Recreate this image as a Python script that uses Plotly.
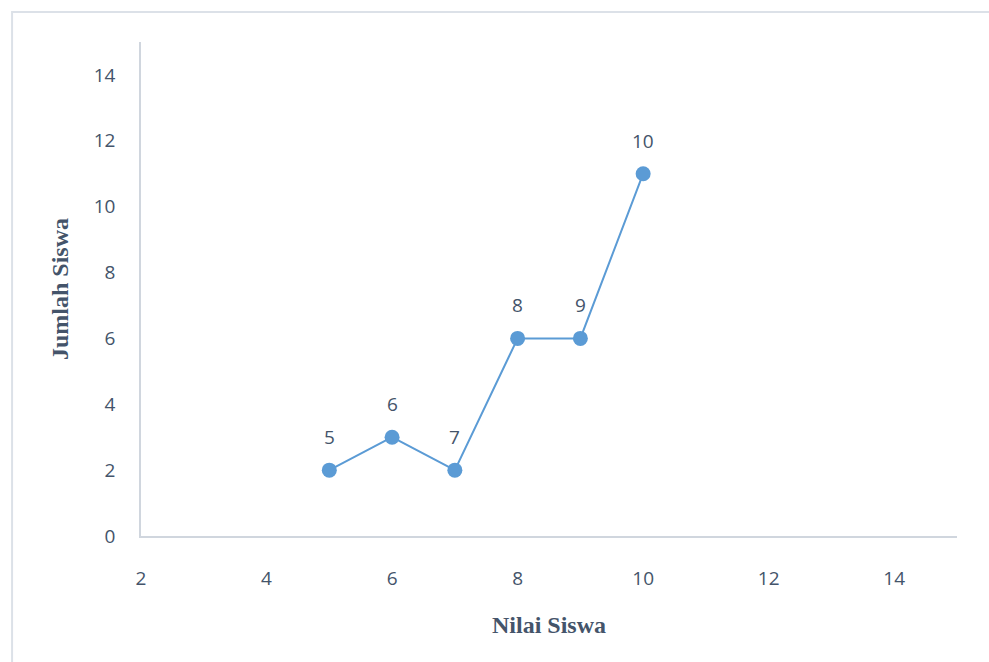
import plotly.graph_objects as go

nilai = [5, 6, 7, 8, 9, 10]
jumlah = [2, 3, 2, 6, 6, 11]
labels = ["5", "6", "7", "8", "9", "10"]

text_color = "#44546A"
axis_color = "#D0D6DE"
blue = "#5B9BD5"

fig = go.Figure()
fig.add_trace(go.Scatter(
    x=nilai, y=jumlah, mode="lines+markers",
    line=dict(color=blue, width=2),
    marker=dict(color=blue, size=15),
    hoverinfo="skip", showlegend=False,
))
for xv, yv, t in zip(nilai, jumlah, labels):
    fig.add_annotation(x=xv, y=yv, text=t, showarrow=False, yshift=33,
                       font=dict(family="Open Sans, Liberation Sans, sans-serif", size=19, color=text_color))

fig.add_shape(type="rect", xref="paper", yref="paper",
              x0=-0.158, x1=1.2, y0=-0.6, y1=1.0607,
              line=dict(color="#DCE1E8", width=2), layer="below")

fig.update_layout(
    width=989, height=662,
    margin=dict(l=141, r=32, t=42, b=126),
    paper_bgcolor="white", plot_bgcolor="white",
    font=dict(family="Open Sans, Liberation Sans, sans-serif", size=19, color=text_color),
    xaxis=dict(
        range=[2, 15], tickvals=[2, 4, 6, 8, 10, 12, 14], showgrid=False, zeroline=False,
        showline=True, linecolor=axis_color, linewidth=1.5,
        ticks="", ticklabelstandoff=24,
        title=dict(text="<b>Nilai Siswa</b>", standoff=27,
                   font=dict(family="Liberation Serif, Times New Roman, serif", size=24, color=text_color)),
    ),
    yaxis=dict(
        range=[0, 15], tickvals=[0, 2, 4, 6, 8, 10, 12, 14], showgrid=False, zeroline=False,
        showline=True, linecolor=axis_color, linewidth=1.5,
        ticks="", ticklabelstandoff=20,
        title=dict(text="<b>Jumlah Siswa</b>", standoff=18,
                   font=dict(family="Liberation Serif, Times New Roman, serif", size=24, color=text_color)),
    ),
)

fig.write_html("out.html")
